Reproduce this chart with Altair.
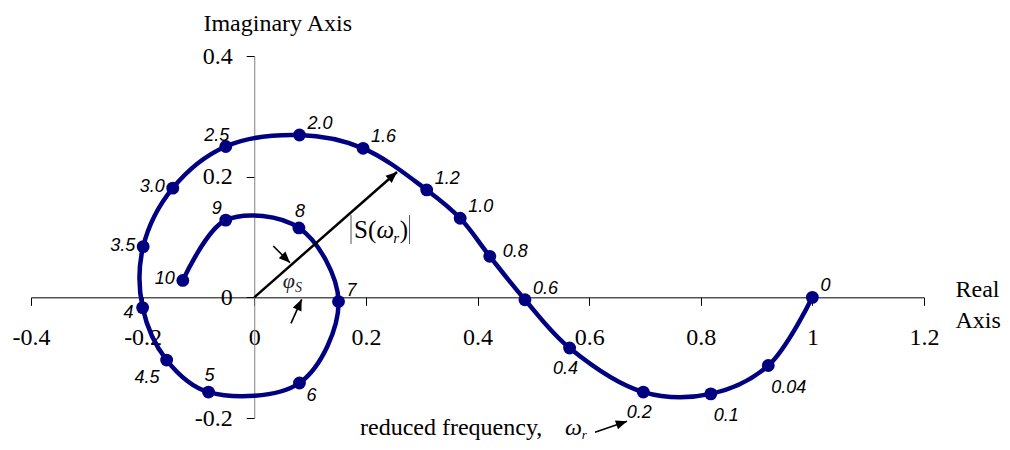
import math
import altair as alt
import pandas as pd

# ---- data -------------------------------------------------------------------
freq_labels = ["0", "0.04", "0.1", "0.2", "0.4", "0.6", "0.8", "1.0", "1.2", "1.6", "2.0",
               "2.5", "3.0", "3.5", "4", "4.5", "5", "6", "7", "8", "9", "10"]
real_part = [1.0, 0.921, 0.818, 0.697, 0.565, 0.485, 0.422, 0.369, 0.309, 0.195, 0.081,
             -0.051, -0.146, -0.199, -0.200, -0.157, -0.082, 0.081, 0.151, 0.080, -0.051, -0.128]
imag_part = [0.0, -0.113, -0.160, -0.157, -0.084, -0.004, 0.068, 0.131, 0.178, 0.247, 0.269,
             0.250, 0.181, 0.084, -0.017, -0.104, -0.157, -0.142, -0.007, 0.115, 0.128, 0.028]
label_place = ["ne", "se", "se", "s", "s", "ne", "e", "ne", "ne", "ne", "ne",
               "nw", "w", "w", "sw", "ssw", "n", "sse", "ne", "n", "nw", "w"]

x_ticks = [-0.4, -0.2, 0, 0.2, 0.4, 0.6, 0.8, 1.0, 1.2]
y_ticks = [-0.2, 0, 0.2, 0.4]

# annotation arrows (data units)
arrow_x1 = [0.0, 0.0341, 0.0658, 0.6105]
arrow_y1 = [0.0, 0.0850, -0.0431, -0.2236]
arrow_x2 = [0.2558, 0.0641, 0.0850, 0.6679]
arrow_y2 = [0.2077, 0.0574, -0.0033, -0.2053]
arrow_w = [2.5, 1.6, 1.6, 1.6]

# ---- layout -----------------------------------------------------------------
W, H = 893, 362
XD = [-0.4, 1.2]
YD = [-0.2, 0.4]
SX = W / (XD[1] - XD[0])
SY = H / (YD[1] - YD[0])
NAVY = "#000080"
SERIF = "Liberation Serif"
SANS = "Liberation Sans"

xs = alt.Scale(domain=XD, nice=False, zero=False)
ys = alt.Scale(domain=YD, nice=False, zero=False)

label_expr = "datum.value < 0 ? '-' + format(-datum.value, '~g') : format(datum.value, '~g')"

x_axis = alt.Axis(
    values=x_ticks, grid=False, orient="bottom",
    offset=-(H * (0 - YD[0]) / (YD[1] - YD[0])),
    domainColor="black", domainWidth=1, tickColor="black", tickSize=8, tickWidth=1,
    labelFont=SERIF, labelFontSize=24, labelColor="black", labelPadding=20,
    labelFlush=False, labelOverlap=False, labelBound=False, labelExpr=label_expr,
    title=["Real", "Axis"], titleFont=SERIF, titleFontSize=24, titleFontWeight="normal",
    titleColor="black", titleAngle=0, titleAlign="left", titleBaseline="alphabetic",
    titleX=W + 31, titleY=-1, titleLineHeight=31,
)
y_axis = alt.Axis(
    values=y_ticks, grid=False, orient="left",
    offset=-(W * (0 - XD[0]) / (XD[1] - XD[0])),
    domainColor="#808080", domainWidth=1, tickColor="black", tickSize=8, tickWidth=1,
    labelFont=SERIF, labelFontSize=24, labelColor="black", labelPadding=14,
    labelFlush=False, labelOverlap=False, labelBound=False, labelExpr=label_expr,
    title="Imaginary Axis", titleFont=SERIF, titleFontSize=24, titleFontWeight="normal",
    titleColor="black", titleAngle=0, titleAlign="center", titleBaseline="alphabetic",
    titleX=23, titleY=-26,
)

pts = pd.DataFrame({
    "idx": list(range(len(freq_labels))),
    "x": real_part,
    "y": imag_part,
    "lab": freq_labels,
    "place": label_place,
})

curve = alt.Chart(pts).mark_line(
    color=NAVY, strokeWidth=4.5, interpolate="catmull-rom"
).encode(
    x=alt.X("x:Q", scale=xs, axis=x_axis),
    y=alt.Y("y:Q", scale=ys, axis=y_axis),
    order=alt.Order("idx:Q"),
)

dots = alt.Chart(pts).mark_circle(color=NAVY, opacity=1, size=165).encode(
    x=alt.X("x:Q", scale=xs),
    y=alt.Y("y:Q", scale=ys),
)

PLACE = {
    "ne": ("left", 8, -6),
    "e": ("left", 13, 1),
    "se": ("left", 3, 27),
    "s": ("center", -4, 26),
    "n": ("center", 1, -11),
    "nw": ("center", -9, -6),
    "w": ("right", -8, 4),
    "sw": ("right", -9, 10),
    "ssw": ("right", -7, 23),
    "sse": ("left", 7, 18),
}

label_layers = []
for key, (al, ddx, ddy) in PLACE.items():
    label_layers.append(
        alt.Chart(pts).transform_filter(alt.datum.place == key).mark_text(
            align=al, baseline="alphabetic", dx=ddx, dy=ddy,
            font=SANS, fontStyle="italic", fontSize=18, color="black",
        ).encode(
            x=alt.X("x:Q", scale=xs),
            y=alt.Y("y:Q", scale=ys),
            text="lab:N",
        )
    )

# arrows
arr = pd.DataFrame({"x": arrow_x1, "y": arrow_y1, "x2": arrow_x2, "y2": arrow_y2, "w": arrow_w})
arr["ang"] = [
    math.degrees(math.atan2((b - a) * SX, (d - c) * SY)) % 360
    for a, b, c, d in zip(arrow_x1, arrow_x2, arrow_y1, arrow_y2)
]
arrow_lines = alt.Chart(arr).mark_rule(color="black").encode(
    x=alt.X("x:Q", scale=xs), y=alt.Y("y:Q", scale=ys),
    x2="x2:Q", y2="y2:Q",
    strokeWidth=alt.StrokeWidth("w:Q", scale=None, legend=None),
)
arrow_heads = alt.Chart(arr).mark_point(
    shape="M0,0L0.42,1L-0.42,1Z", filled=True, color="black", opacity=1, size=500, strokeWidth=0
).encode(
    x=alt.X("x2:Q", scale=xs), y=alt.Y("y2:Q", scale=ys),
    angle=alt.Angle("ang:Q", scale=None),
)

# |S(omega_r)| bars
bars = pd.DataFrame({"x": [0.1734, 0.2782], "y": [0.1364, 0.1364], "y2": [0.0883, 0.0883]})
bar_rules = alt.Chart(bars).mark_rule(color="#555555", strokeWidth=1).encode(
    x=alt.X("x:Q", scale=xs), y=alt.Y("y:Q", scale=ys), y2="y2:Q",
)

annotations = [
    ("S(", 0.1787, 0.0983, 25, "normal", "black"),
    ("ω", 0.2190, 0.0983, 25, "italic", "black"),
    ("r", 0.2490, 0.0900, 15, "italic", "black"),
    (")", 0.2605, 0.0983, 25, "normal", "black"),
    ("φ", 0.0510, 0.0154, 22, "italic", "#222222"),
    ("S", 0.0730, 0.0088, 14, "italic", "#222222"),
    ("reduced frequency,", 0.1895, -0.2282, 24, "normal", "black"),
    ("ω", 0.5568, -0.2282, 24, "italic", "black"),
    ("r", 0.5867, -0.2349, 13, "italic", "black"),
]
ann_layers = []
for txt, ax, ay, fs, st, col in annotations:
    ann_layers.append(
        alt.Chart(pd.DataFrame({"x": [ax], "y": [ay], "t": [txt]})).mark_text(
            align="left", baseline="alphabetic", font=SERIF, fontSize=fs,
            fontStyle=st, color=col,
        ).encode(
            x=alt.X("x:Q", scale=xs), y=alt.Y("y:Q", scale=ys), text="t:N",
        )
    )

chart = alt.layer(
    curve, arrow_lines, arrow_heads, dots, bar_rules, *label_layers, *ann_layers
).properties(
    width=W, height=H,
    padding={"left": 23, "top": 48, "right": 78, "bottom": 24},
    autosize=alt.AutoSizeParams(type="none"),
    background="white",
).configure_view(stroke=None)

chart.save("out.html", embed_options={"renderer": "svg", "actions": False})
